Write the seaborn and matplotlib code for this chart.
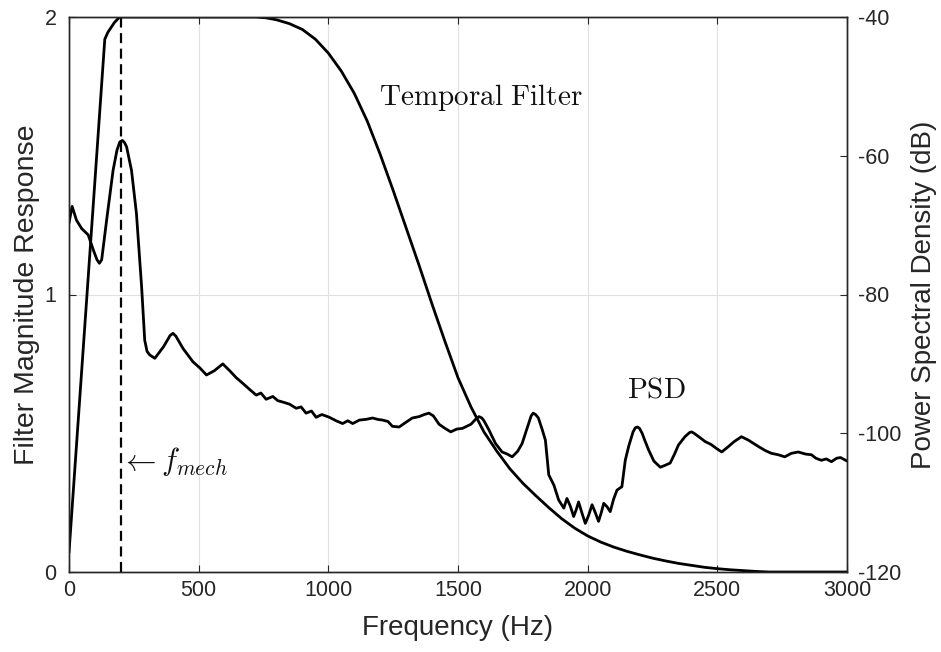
import numpy as np
import pandas as pd
import matplotlib
matplotlib.use("Agg")
import matplotlib.pyplot as plt
import seaborn as sns

# ---------------- data ----------------
filter_freq = [0, 50, 100, 138, 150, 175, 195, 400, 600, 720, 760, 800, 850, 900, 950,
               1000, 1050, 1100, 1150, 1200, 1250, 1300, 1350, 1400, 1450, 1500,
               1550, 1600, 1650, 1700, 1750, 1800, 1850, 1900, 1950, 2000, 2050,
               2100, 2150, 2200, 2250, 2300, 2350, 2400, 2450, 2500, 2550, 2600,
               2650, 2700, 3000]
filter_mag = [0.07, 0.74, 1.41, 1.92, 1.945, 1.98, 2.0, 2.0, 2.0, 2.0, 1.997, 1.99,
              1.976, 1.955, 1.92, 1.87, 1.805, 1.725, 1.625, 1.505, 1.375, 1.24, 1.105,
              0.965, 0.83, 0.70, 0.595, 0.505, 0.435, 0.372, 0.32, 0.275, 0.232, 0.192,
              0.158, 0.13, 0.108, 0.09, 0.075, 0.062, 0.05, 0.04, 0.031, 0.024, 0.017,
              0.012, 0.008, 0.005, 0.002, 0.0, 0.0]

psd_freq = [0, 12, 29, 49, 74, 94, 108, 117, 126, 145, 170, 185, 196, 206, 214, 222,
            241, 260, 280, 292, 301, 311, 331, 365, 390, 401, 412, 440, 478, 505, 530,
            560, 593, 620, 645, 670, 700, 722, 740, 760, 786, 805, 824, 850, 876, 895,
            914, 935, 953, 975, 1004, 1030, 1055, 1075, 1094, 1120, 1145, 1171, 1190,
            1209, 1230, 1247, 1273, 1300, 1324, 1350, 1370, 1388, 1405, 1427, 1450,
            1472, 1495, 1517, 1550, 1570, 1581, 1592, 1600, 1619, 1645, 1670, 1690,
            1709, 1730, 1747, 1770, 1782, 1790, 1799, 1810, 1825, 1837, 1850, 1870,
            1888, 1908, 1920, 1933, 1946, 1956, 1965, 1978, 1991, 2004, 2017, 2030,
            2042, 2052, 2062, 2075, 2087, 2100, 2113, 2132, 2145, 2158, 2175, 2184,
            2192, 2200, 2210, 2220, 2235, 2255, 2280, 2300, 2318, 2335, 2350, 2375,
            2393, 2401, 2410, 2425, 2453, 2475, 2497, 2517, 2540, 2565, 2593, 2620,
            2658, 2685, 2709, 2735, 2760, 2785, 2812, 2840, 2863, 2880, 2901, 2920,
            2940, 2960, 2975, 3000]
psd_db = [-69.7, -67.3, -69.3, -70.5, -71.4, -73.6, -75.0, -75.5, -75.0, -69.3, -62.1,
          -59.2, -58.0, -57.8, -58.1, -58.7, -62.1, -68.3, -78.9, -86.6, -88.2, -88.7,
          -89.2, -87.5, -85.9, -85.6, -86.0, -87.8, -89.7, -90.6, -91.6, -91.0, -90.0,
          -91.0, -92.0, -92.8, -93.8, -94.5, -94.2, -95.1, -94.7, -95.3, -95.5, -95.8,
          -96.4, -96.2, -97.1, -96.8, -97.7, -97.3, -97.7, -98.2, -98.6, -98.2, -98.6,
          -98.1, -98.0, -97.8, -98.0, -98.1, -98.3, -99.0, -99.1, -98.4, -97.8, -97.6,
          -97.3, -97.1, -97.5, -98.7, -99.3, -99.8, -99.4, -99.3, -98.7, -97.9, -97.6,
          -97.8, -98.2, -99.5, -101.5, -102.7, -103.0, -103.4, -102.6, -101.5, -98.9,
          -97.5, -97.1, -97.3, -97.8, -99.5, -101.0, -106.0, -107.5, -109.6, -110.8,
          -109.4, -110.5, -112.0, -111.0, -109.9, -111.5, -113.0, -111.8, -110.3,
          -111.5, -112.7, -111.5, -110.1, -110.6, -111.3, -109.5, -108.2, -107.7,
          -103.9, -101.9, -99.8, -99.2, -99.1, -99.3, -100.0, -101.0, -102.4, -104.0,
          -104.9, -104.6, -104.3, -103.0, -101.7, -100.5, -99.9, -99.8, -100.0, -100.4,
          -101.2, -101.6, -102.2, -102.7, -102.0, -101.2, -100.5, -101.0, -101.9,
          -102.5, -102.9, -103.1, -103.4, -102.9, -102.7, -103.0, -103.1, -103.6,
          -103.9, -103.7, -104.1, -103.6, -103.5, -104.0]

f_mech = 200
x_ticks = [0, 500, 1000, 1500, 2000, 2500, 3000]
left_ticks = [0, 1, 2]
right_ticks = [-120, -100, -80, -60, -40]

# ---------------- style ----------------
sns.set_theme(style="white")
plt.rcParams["font.family"] = ["Liberation Sans", "DejaVu Sans"]
plt.rcParams["mathtext.fontset"] = "cm"
plt.rcParams["axes.unicode_minus"] = False

axc = "#262626"
fig = plt.figure(figsize=(9.41, 6.52), dpi=100)
ax = fig.add_axes([69 / 941, 80 / 652, 778 / 941, 555 / 652])

df_f = pd.DataFrame({"freq": filter_freq, "mag": filter_mag})
df_p = pd.DataFrame({"freq": psd_freq, "db": psd_db})

sns.lineplot(data=df_f, x="freq", y="mag", ax=ax, color="black", lw=2.0,
             estimator=None, sort=False)
ax.plot([f_mech, f_mech], [0, 2], color="black", lw=1.6, ls=(0, (4.5, 2.5)))

ax.set_xlim(0, 3000)
ax.set_ylim(0, 2)
ax.set_xticks(x_ticks)
ax.set_yticks(left_ticks)
ax.grid(True, color="#e0e0e0", lw=0.8)
ax.set_axisbelow(True)

ax2 = ax.twinx()
sns.lineplot(data=df_p, x="freq", y="db", ax=ax2, color="black", lw=2.0,
             estimator=None, sort=False)
ax2.set_ylim(-120, -40)
ax2.set_yticks(right_ticks)
ax2.grid(False)

for a in (ax, ax2):
    for s in a.spines.values():
        s.set_color(axc)
        s.set_linewidth(1.0)
        s.set_visible(True)

ax.tick_params(axis="x", direction="in", length=5, width=0.8, color=axc,
               labelsize=15.5, labelcolor=axc, top=True, bottom=True, pad=6)
ax.tick_params(axis="y", direction="in", length=5, width=0.8, color=axc,
               labelsize=15.5, labelcolor=axc, left=True, right=False, pad=9)
ax2.tick_params(axis="y", direction="in", length=5, width=0.8, color=axc,
                labelsize=15.5, labelcolor=axc, right=True, left=False, pad=8)

ax.set_xlabel("Frequency (Hz)", fontsize=20, color=axc, labelpad=10)
ax.set_ylabel("Filter Magnitude Response", fontsize=20.5, color=axc, labelpad=3)
ax2.set_ylabel("Power Spectral Density (dB)", fontsize=20, color=axc, labelpad=7)

ax.text(1196, 1.71, r"$\mathrm{Temporal\ Filter}$", fontsize=21, va="center",
        ha="left", color="#111111")
ax.text(2150, 0.656, r"$\mathrm{PSD}$", fontsize=21, va="center", ha="left",
        color="#111111")
ax.text(195, 0.40, r"$\leftarrow f_{mech}$", fontsize=22, va="center", ha="left",
        color="#111111")

fig.savefig("out.png", dpi=100)
